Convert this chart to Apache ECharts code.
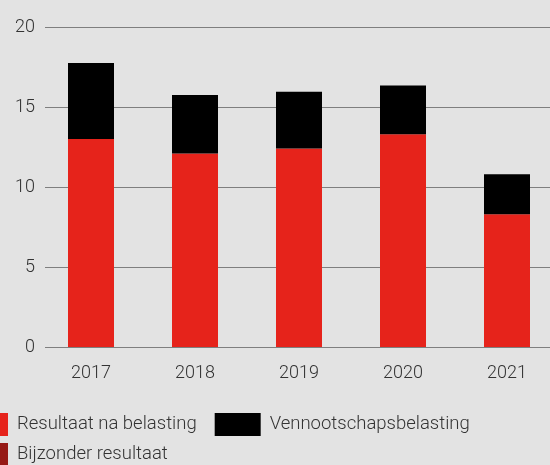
<!DOCTYPE html>
<html>
	<head>
		<meta charset="utf-8">
		<title>Resultaat</title>
		<script src="https://cdn.jsdelivr.net/npm/echarts@6/dist/echarts.min.js"></script>
		<style>
			html, body { margin: 0; padding: 0; background: #e3e3e3; }
			#main { width: 550px; height: 465px; }
		</style>
	</head>
	<body>
		<div id="main"></div>
		<script type="text/javascript">
			// jaren en waarden
			var years = ['2017', '2018', '2019', '2020', '2021'];
			var resultaatNaBelasting = [13.0, 12.1, 12.4, 13.3, 8.3];
			var vennootschapsbelasting = [4.75, 3.65, 3.55, 3.05, 2.5];
			var bijzonderResultaat = [0, 0, 0, 0, 0];
			var yTicks = [0, 5, 10, 15, 20];

			var font = 'Roboto';
			var myChart = echarts.init(document.getElementById('main'));

			var option = {
				animation: false,
				backgroundColor: '#e3e3e3',
				grid: [
					// grid voor de staven
					{ left: 39, right: -9, top: 27, bottom: 118, outerBoundsMode: 'none' },
					// grid voor de lijnen en y-labels
					{ left: 45, right: 0, top: 27, bottom: 118, outerBoundsMode: 'none' }
				],
				legend: {
					left: -38,
					top: 413,
					width: 540,
					padding: 0,
					itemWidth: 46,
					itemHeight: 23,
					itemGap: 7,
					icon: 'rect',
					textStyle: {
						fontFamily: font,
						fontWeight: 300,
						fontSize: 18.5,
						color: '#333',
						// transparante achtergrond zodat de padding meetelt
						backgroundColor: 'rgba(0,0,0,0)',
						padding: [0, 11, 0, 4]
					},
					data: ['Resultaat na belasting', 'Vennootschapsbelasting', 'Bijzonder resultaat']
				},
				xAxis: [
					{
						type: 'category',
						gridIndex: 0,
						data: years,
						axisLine: { show: false },
						axisTick: { show: false },
						axisLabel: {
							margin: 17,
							fontFamily: font,
							fontWeight: 300,
							fontSize: 18,
							color: '#333'
						}
					},
					{
						type: 'category',
						gridIndex: 1,
						data: years,
						show: false
					}
				],
				yAxis: [
					{
						type: 'value',
						gridIndex: 0,
						min: yTicks[0],
						max: yTicks[yTicks.length - 1],
						interval: 5,
						show: false,
						splitLine: { show: false }
					},
					{
						type: 'value',
						gridIndex: 1,
						min: yTicks[0],
						max: yTicks[yTicks.length - 1],
						interval: 5,
						axisLine: { show: false },
						axisTick: { show: false },
						axisLabel: {
							margin: 10,
							fontFamily: font,
							fontWeight: 300,
							fontSize: 18,
							color: '#333'
						},
						splitLine: { lineStyle: { color: '#7f7f7f', width: 1 } }
					}
				],
				series: [
					{
						name: 'Resultaat na belasting',
						type: 'bar',
						stack: 'totaal',
						barWidth: 46,
						itemStyle: { color: '#e6231b' },
						data: resultaatNaBelasting
					},
					{
						name: 'Vennootschapsbelasting',
						type: 'bar',
						stack: 'totaal',
						barWidth: 46,
						itemStyle: { color: '#000000' },
						data: vennootschapsbelasting
					},
					{
						name: 'Bijzonder resultaat',
						type: 'bar',
						stack: 'totaal',
						barWidth: 46,
						itemStyle: { color: '#961915' },
						data: bijzonderResultaat
					}
				]
			};

			option && myChart.setOption(option);
		</script>
	</body>
</html>
